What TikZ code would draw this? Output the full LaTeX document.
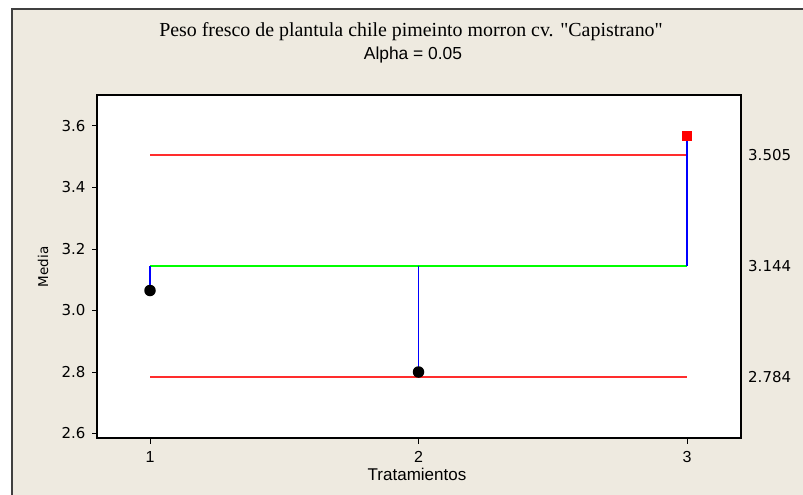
\documentclass[tikz,border=0pt]{standalone}
\usepackage{fontspec}
\setmainfont{Liberation Serif}
\setsansfont{DejaVu Sans}
\newfontfamily\arialfont{Liberation Sans}
\usepackage{xcolor}
\usepackage{tikz}
\usetikzlibrary{positioning}
\definecolor{fondo}{RGB}{238,234,224}
\definecolor{marco}{RGB}{64,64,64}
\definecolor{rojo}{RGB}{255,45,45}
\tikzset{
    etiq/.style={font=\sffamily\fontsize{15}{15}\selectfont, inner sep=0pt},
    etiqx/.style={font=\arialfont\fontsize{16}{16}\selectfont, inner sep=0pt},
    limite/.style={rojo, line width=1.5pt},
    centro/.style={green, line width=1.5pt},
    desv/.style={blue, line width=1.4pt},
    punto/.style={circle, fill=black, inner sep=0pt, minimum size=11.5pt},
    fuera/.style={rectangle, fill=red, inner sep=0pt, minimum size=10pt}
}

\begin{document}
\begin{tikzpicture}[x=1pt, y=-1pt]
    \useasboundingbox (0,0) rectangle (803,495);
    % Fondo
    \fill[white] (0,0) rectangle (803,495);
    \draw[marco, line width=1.5pt, fill=fondo] (12,9) rectangle (830,520);

    % Titulo
    \node[font=\fontsize{19.9}{20}\selectfont] (titulo) at (411,32) {Peso fresco de plantula chile pimeinto morron cv. \textquotedbl Capistrano\textquotedbl};
    \node[font=\arialfont\fontsize{17.4}{17}\selectfont] (alpha) at (413,55) {Alpha = 0.05};

    % Marco del grafico
    \draw[fill=white, line width=1.2pt] (97,95) rectangle (741,438);
    \coordinate (esq) at (97,438);
    \coordinate (esqd) at (741,438);

    % Ejes
    \node[font=\sffamily\fontsize{13.5}{14}\selectfont, rotate=90] (ylab) at (43,267) {Media};
    \node[font=\arialfont\fontsize{17}{17}\selectfont] (xlab) at (417,474) {Tratamientos};

    \begin{scope}[shift={(-118.5pt,-1233pt)}, x=268.5pt, y=307.5pt]
        % Marcas eje y
        \foreach \v [count=\i] in {2.6,2.8,3.0,3.2,3.4,3.6}
            \draw[line width=1pt] (esq |- 1,\v) -- ++(-5pt,0) node[etiq, left=6pt] (ty\i) {\v};
        % Marcas eje x
        \foreach \t in {1,2,3}
            \draw[line width=1pt] (\t,3 |- esq) -- ++(0,-6pt) node[etiqx, below=7pt] (tx\t) {\t};

        % Limites de decision
        \coordinate (ls1) at (1,3.505);
        \coordinate (ls3) at (3,3.505);
        \coordinate (li1) at (1,2.784);
        \coordinate (li3) at (3,2.784);
        \draw[limite] (ls1) -- (ls3);
        \draw[limite] (li1) -- (li3);

        % Linea central
        \coordinate (c1) at (1,3.144);
        \coordinate (c2) at (2,3.144);
        \coordinate (c3) at (3,3.144);
        \draw[centro] (c1) -- (c3);

        % Medias
        \coordinate (m1) at (1,3.065);
        \coordinate (m2) at (2,2.800);
        \coordinate (m3) at (3,3.567);
        \draw[desv] (c1) -- (m1);
        \draw[desv] (c2) -- (m2);
        \draw[desv] (c3) -- (m3);
        \node[punto] (k1) at (m1) {};
        \node[punto] (k2) at (m2) {};
        \node[fuera] (k3) at (m3) {};

        % Valores a la derecha
        \node[etiq, anchor=west] (vs) at ([xshift=7pt] esqd |- ls3) {3.505};
        \node[etiq, anchor=west] (vc) at ([xshift=7pt] esqd |- c3) {3.144};
        \node[etiq, anchor=west] (vi) at ([xshift=7pt] esqd |- li3) {2.784};
    \end{scope}
\end{tikzpicture}
\end{document}
